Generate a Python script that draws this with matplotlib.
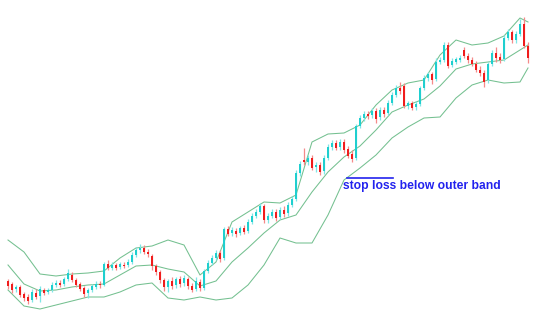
import matplotlib
matplotlib.use("Agg")
import matplotlib.pyplot as plt
import numpy as np

# candle prices (arbitrary price units), one entry per bar
opens = [50, 47, 42, 44, 37, 34, 31, 38, 35, 41, 39, 41, 46, 48, 47, 52, 56, 51, 47, 43,
         38, 41, 44, 47, 46, 67, 63, 66, 64, 66, 66, 69, 76, 81, 83, 79, 75, 65, 59, 51,
         44, 50, 46, 52, 48, 52, 45, 42, 49, 43, 60, 68, 73, 78, 73, 102, 98, 100, 98, 103,
         100, 109, 115, 119, 125, 111, 115, 119, 114, 121, 118, 126, 132, 158, 171, 169, 173, 164, 166, 160,
         173, 184, 188, 184, 189, 182, 177, 173, 205, 213, 217, 216, 220, 214, 221, 218, 228, 236, 243, 245,
         225, 228, 224, 227, 243, 253, 257, 252, 269, 271, 286, 266, 269, 271, 281, 275, 271, 267, 261, 258,
         251, 267, 278, 274, 272, 293, 299, 291, 297, 307, 285]
closes = [45, 41, 44, 36, 33, 30, 39, 34, 42, 38, 41, 46, 48, 46, 52, 58, 51, 46, 42, 37,
          41, 45, 47, 46, 67, 63, 66, 63, 67, 65, 69, 76, 81, 83, 79, 77, 65, 59, 51, 44,
          50, 45, 52, 47, 53, 45, 41, 50, 43, 60, 68, 73, 78, 72, 102, 97, 101, 97, 103, 99,
          109, 115, 119, 125, 111, 115, 119, 113, 121, 117, 126, 132, 158, 167, 169, 173, 163, 166, 159, 173,
          184, 188, 183, 189, 181, 175, 172, 205, 213, 217, 215, 220, 212, 221, 217, 228, 236, 243, 240, 225,
          228, 223, 227, 243, 253, 257, 251, 269, 271, 286, 265, 270, 272, 273, 275, 271, 267, 261, 258, 249,
          267, 278, 273, 271, 293, 299, 291, 297, 307, 285, 273]
highs = [52, 49, 46, 46, 39, 37, 42, 42, 45, 43, 43, 49, 51, 51, 54, 62, 59, 53, 49, 45,
         43, 47, 50, 50, 69, 71, 69, 68, 69, 69, 72, 79, 84, 87, 86, 82, 77, 67, 61, 53,
         52, 54, 54, 55, 56, 54, 48, 54, 52, 62, 71, 76, 81, 81, 104, 105, 104, 103, 105, 106,
         112, 118, 122, 128, 127, 118, 122, 122, 124, 125, 129, 135, 161, 170, 183, 176, 176, 169, 169, 176,
         187, 191, 191, 192, 192, 185, 181, 207, 216, 220, 220, 223, 223, 224, 224, 231, 239, 246, 249, 248,
         230, 230, 230, 245, 256, 259, 259, 273, 274, 289, 289, 273, 274, 276, 284, 278, 274, 270, 265, 261,
         269, 281, 284, 278, 296, 302, 301, 300, 312, 314, 289]
lows = [42, 38, 39, 34, 30, 27, 29, 32, 29, 36, 37, 39, 44, 44, 45, 50, 49, 44, 40, 34,
        33, 39, 42, 43, 45, 61, 61, 61, 62, 63, 64, 67, 74, 78, 77, 74, 61, 56, 48, 40,
        39, 42, 43, 44, 45, 42, 39, 40, 40, 41, 58, 66, 71, 69, 71, 95, 95, 94, 96, 97,
        98, 107, 113, 117, 108, 108, 113, 110, 112, 114, 115, 124, 130, 155, 166, 166, 161, 159, 156, 157,
        171, 181, 181, 181, 178, 173, 169, 171, 203, 210, 212, 213, 208, 211, 214, 216, 226, 234, 237, 223,
        222, 221, 221, 225, 241, 250, 247, 250, 267, 269, 263, 264, 267, 269, 273, 268, 265, 259, 255, 244,
        248, 265, 269, 268, 270, 291, 288, 288, 295, 283, 268]

# Bollinger band readings, taken every 4th bar
band_idx = [0, 4, 8, 12, 16, 20, 24, 28, 32, 36, 40, 44, 48, 52, 56, 60, 64, 68, 72, 76,
            80, 84, 88, 92, 96, 100, 104, 108, 112, 116, 120, 124, 128, 130]
upper = [91, 79, 57, 55, 57, 58, 60, 73, 83, 85, 91, 86, 56, 69, 109, 119, 129, 128, 136, 189,
         197, 198, 206, 226, 241, 248, 251, 276, 291, 286, 288, 295, 313, 309]
middle = [66, 47, 40, 41, 44, 46, 47, 56, 65, 66, 62, 59, 45, 50, 69, 83, 98, 111, 116, 139,
          159, 174, 185, 201, 219, 226, 232, 245, 262, 267, 269, 271, 281, 286]
lower = [41, 25, 22, 26, 30, 34, 34, 39, 46, 48, 33, 31, 34, 31, 33, 46, 66, 93, 88, 88,
         116, 151, 163, 176, 193, 204, 213, 214, 233, 246, 251, 248, 249, 263]

note = "stop loss below outer band"

BULL = "#1fcfcf"
BEAR = "#f01c1c"
BULL_WICK = "#7fe6e6"
BEAR_WICK = "#f58a8a"
BAND = "#74c090"

fig = plt.figure(figsize=(5.53, 3.31), dpi=100)
ax = fig.add_axes([0, 0, 1, 1])

x = np.arange(len(closes))
o = np.array(opens)
c = np.array(closes)
up = c >= o

for band in (upper, middle, lower):
    ax.plot(band_idx, band, color=BAND, lw=0.75, zorder=1)

ax.vlines(x[up], np.array(lows)[up], np.array(highs)[up], color=BULL_WICK, lw=0.9, zorder=2)
ax.vlines(x[~up], np.array(lows)[~up], np.array(highs)[~up], color=BEAR_WICK, lw=0.9, zorder=2)
ax.bar(x[up], (c - o)[up], bottom=o[up], width=0.65, color=BULL, lw=0, zorder=3)
ax.bar(x[~up], (c - o)[~up], bottom=o[~up], width=0.65, color=BEAR, lw=0, zorder=3)

ax.text(83.7, 145, note, color="#2222ee", fontsize=8.7, fontweight="bold",
        family="Liberation Sans", ha="left", va="center")
ax.plot([84.8, 96.2], [153, 153], color="#2222ee", lw=1.2)

ax.set_xlim(-2, 136.25)
ax.set_ylim(0, 331)
ax.axis("off")

fig.savefig("out.png", dpi=100)
